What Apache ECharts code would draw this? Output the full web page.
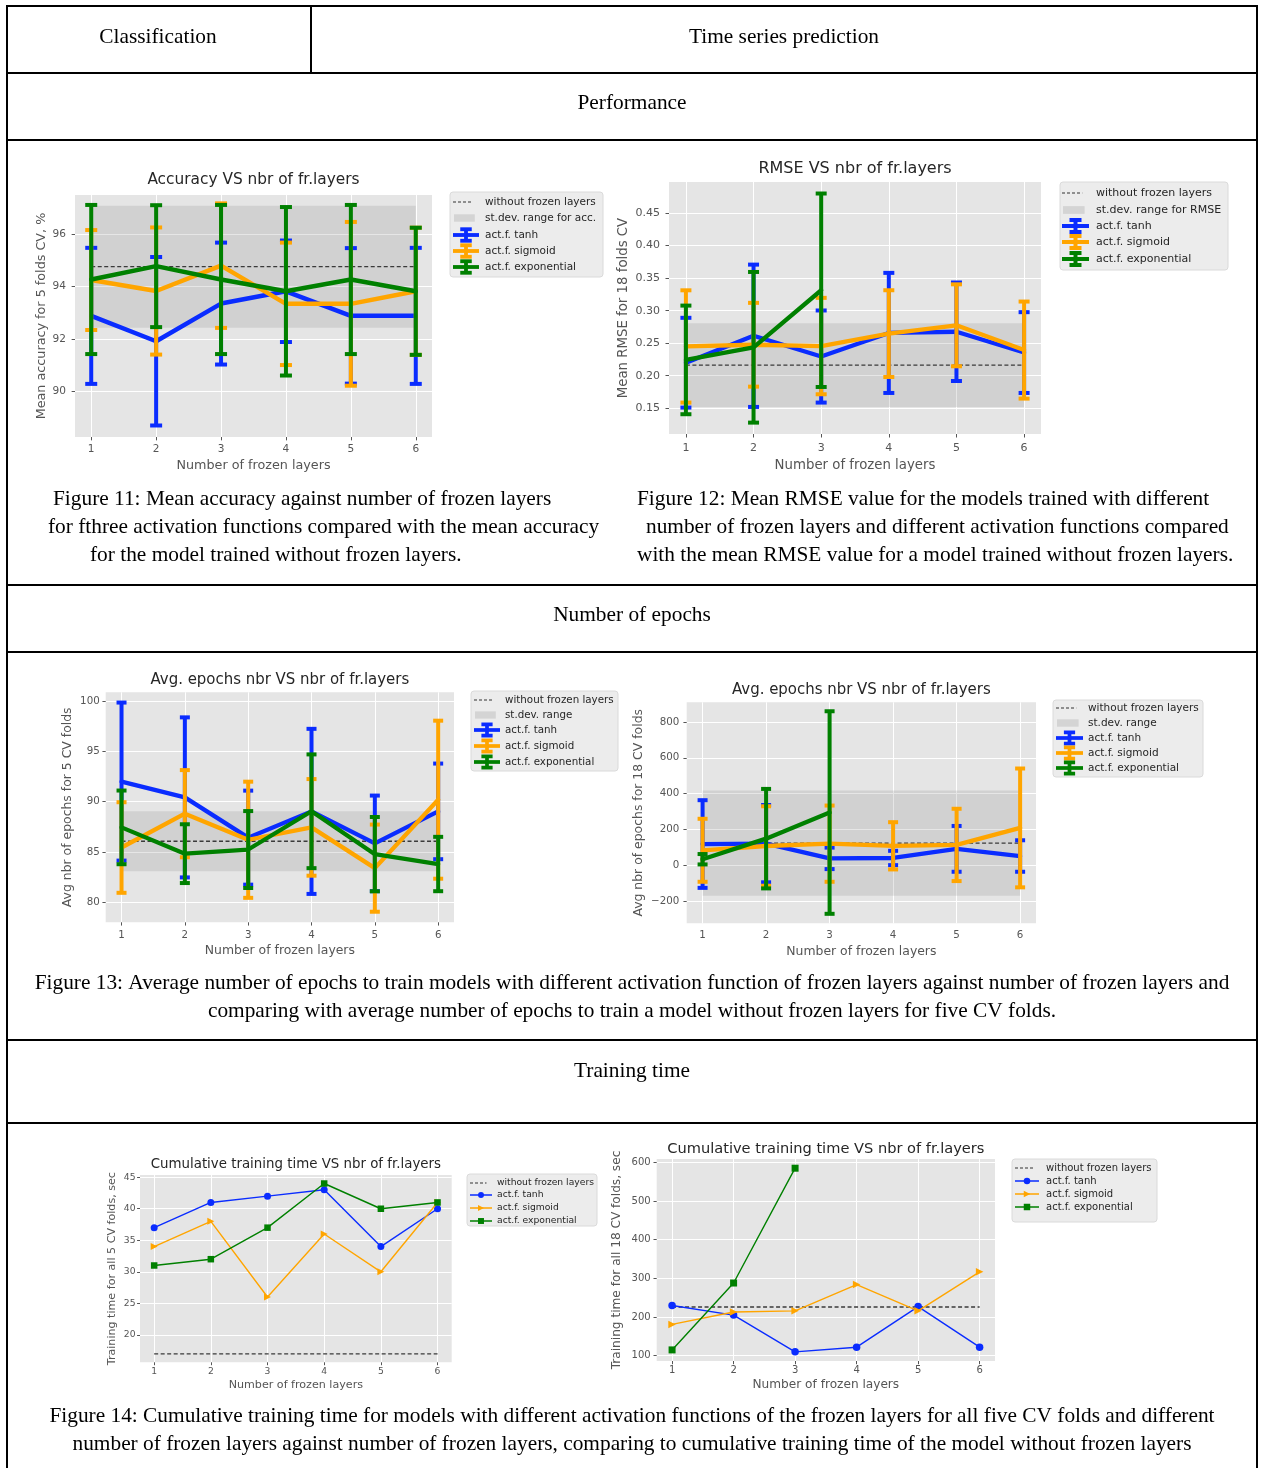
<!DOCTYPE html>
<html>
<head>
<meta charset="utf-8">
<script src="https://cdn.jsdelivr.net/npm/echarts@6/dist/echarts.min.js"></script>
<style>
html, body { margin: 0; padding: 0; background: #ffffff; }
#main { width: 1261px; height: 1468px; }
</style>
</head>
<body>
<div id="main"></div>
<script>
// ---------------- DATA ----------------
const layers = [1, 2, 3, 4, 5, 6];

// Figure 11 - accuracy (classification)
const accBase = 94.76;
const accBaseStd = 2.33;
const accTanh = [92.88, 91.91, 93.35, 93.82, 92.88, 92.88];
const accTanhStd = [2.60, 3.22, 2.33, 1.94, 2.59, 2.60];
const accSigmoid = [94.25, 93.83, 94.80, 93.34, 93.34, 93.82];
const accSigmoidStd = [1.91, 2.43, 2.38, 2.34, 3.13, 2.43];
const accExp = [94.27, 94.78, 94.27, 93.82, 94.27, 93.82];
const accExpStd = [2.85, 2.33, 2.85, 3.22, 2.85, 2.43];
const accTicks = [90, 92, 94, 96];

// Figure 12 - RMSE (time series)
const rmseBase = 0.2164;
const rmseBaseStd = 0.0644;
const rmseTanh = [0.2200, 0.2614, 0.2295, 0.2658, 0.2676, 0.2356];
const rmseTanhStd = [0.0690, 0.1094, 0.0708, 0.0923, 0.0757, 0.0621];
const rmseSigmoid = [0.2450, 0.2476, 0.2456, 0.2647, 0.2775, 0.2394];
const rmseSigmoidStd = [0.0863, 0.0644, 0.0741, 0.0667, 0.0630, 0.0746];
const rmseExp = [0.2243, 0.2437, 0.3314, null, null, null];
const rmseExpStd = [0.0835, 0.1158, 0.1487, null, null, null];
const rmseTicks = [0.15, 0.20, 0.25, 0.30, 0.35, 0.40, 0.45];

// Figure 13 left - epochs (classification)
const epBase = 86.05;
const epBaseStd = 2.99;
const epTanh = [91.98, 90.41, 86.41, 89.02, 85.84, 89.02];
const epTanhStd = [7.85, 7.95, 4.67, 8.20, 4.75, 4.75];
const epSigmoid = [85.43, 88.79, 86.20, 87.43, 83.38, 90.18];
const epSigmoidStd = [4.50, 4.33, 5.77, 4.80, 4.33, 7.85];
const epExp = [87.43, 84.82, 85.23, 89.03, 84.77, 83.79];
const epExpStd = [3.66, 2.92, 3.82, 5.65, 3.69, 2.70];
const epTicks = [80, 85, 90, 95, 100];

// Figure 13 right - epochs (time series)
const epTsBase = 123;
const epTsBaseStd = 294;
const epTsTanh = [118, 120, 38, 40, 91, 51];
const epTsTanhStd = [245, 216, 60, 40, 128, 88];
const epTsSigmoid = [83, 107, 120, 108, 113, 208];
const epTsSigmoidStd = [176, 222, 213, 132, 202, 332];
const epTsExp = [33, 148, 294, null, null, null];
const epTsExpStd = [29, 278, 566, null, null, null];
const epTsTicks = [-200, 0, 200, 400, 600, 800];

// Figure 14 left - cumulative training time (classification)
const ttBase = 17;
const ttTanh = [37, 41, 42, 43, 34, 40];
const ttSigmoid = [34, 38, 26, 36, 30, 41];
const ttExp = [31, 32, 37, 44, 40, 41];
const ttTicks = [20, 25, 30, 35, 40, 45];

// Figure 14 right - cumulative training time (time series)
const tsTtBase = 226;
const tsTtTanh = [230, 205, 110, 122, 227, 122];
const tsTtSigmoid = [181, 213, 216, 284, 216, 317];
const tsTtExp = [115, 288, 585, null, null, null];
const tsTtTicks = [100, 200, 300, 400, 500, 600];

// ---------------- STYLE ----------------
const FONT = 'DejaVu Sans';
const SERIF = 'Liberation Serif';
const C_TANH = '#0a2cff';
const C_SIG = '#ffa500';
const C_EXP = '#008000';
const PLOT_BG = '#e5e5e5';
const BAND = 'rgba(128,128,128,0.2)';
const LBL = '#555555';

const option = {
  animation: false,
  backgroundColor: '#ffffff',
  title: [], grid: [], xAxis: [], yAxis: [], series: [],
  graphic: { elements: [] }
};
const G = option.graphic.elements;

function lineData(vals) {
  const out = [];
  layers.forEach((x, i) => { if (vals[i] != null) out.push([x, vals[i]]); });
  return out;
}
function errData(mean, std) {
  const out = [];
  layers.forEach((x, i) => { if (mean[i] != null) out.push([x, mean[i] - std[i], mean[i] + std[i]]); });
  return out;
}
function errRender(color, lw, cap) {
  return function (params, api) {
    const x = api.value(0);
    const lo = api.coord([x, api.value(1)]);
    const hi = api.coord([x, api.value(2)]);
    const st = { stroke: color, lineWidth: lw, fill: null };
    return {
      type: 'group',
      children: [
        { type: 'line', shape: { x1: lo[0], y1: lo[1], x2: hi[0], y2: hi[1] }, style: st },
        { type: 'line', shape: { x1: hi[0] - cap / 2, y1: hi[1], x2: hi[0] + cap / 2, y2: hi[1] }, style: st },
        { type: 'line', shape: { x1: lo[0] - cap / 2, y1: lo[1], x2: lo[0] + cap / 2, y2: lo[1] }, style: st }
      ]
    };
  };
}

function addChart(c) {
  const ci = option.grid.length;
  const s = c.s;
  const [gl, gt, gw, gh] = c.grid;
  option.grid.push({
    left: gl, top: gt, width: gw, height: gh, show: true,
    backgroundColor: PLOT_BG, borderWidth: 0, containLabel: false, outerBoundsMode: 'none'
  });
  option.title.push({
    text: c.title, left: gl + gw / 2, top: c.titleY, textAlign: 'center', textVerticalAlign: 'middle',
    padding: 0,
    textStyle: { fontFamily: FONT, fontSize: 16 * s, fontWeight: 'normal', color: '#262626' }
  });
  option.xAxis.push({
    type: 'value', gridIndex: ci, min: 0.75, max: 6.25, splitNumber: 5,
    name: 'Number of frozen layers', nameLocation: 'middle', nameGap: c.xNameGap,
    nameTextStyle: { fontFamily: FONT, fontSize: 13.3 * s, color: LBL },
    axisLine: { show: false },
    axisTick: { show: true, length: 3.5 * s, lineStyle: { color: LBL, width: 1 }, customValues: layers },
    axisLabel: { fontFamily: FONT, fontSize: 11 * s, color: LBL, margin: c.xLabelMargin, customValues: layers },
    splitLine: { show: true, lineStyle: { color: '#ffffff', width: 1 }, customValues: layers }
  });
  option.yAxis.push({
    type: 'value', gridIndex: ci, min: c.yMin, max: c.yMax, splitNumber: c.ySplit,
    name: c.yName, nameLocation: 'middle', nameGap: c.yNameGap,
    nameTextStyle: { fontFamily: FONT, fontSize: 13.3 * s, color: LBL },
    axisLine: { show: false },
    axisTick: { show: true, length: 3.5 * s, lineStyle: { color: LBL, width: 1 }, customValues: c.ticks },
    axisLabel: { fontFamily: FONT, fontSize: 11 * s, color: LBL, margin: c.yLabelMargin, customValues: c.ticks,
      formatter: c.fmt || function (v) { return v < 0 ? '\u2212' + Math.abs(v) : String(v); } },
    splitLine: { show: true, lineStyle: { color: '#ffffff', width: 1 }, customValues: c.ticks }
  });
  if (c.baseStd != null) {
    option.series.push({
      type: 'line', name: 'st.dev. range', xAxisIndex: ci, yAxisIndex: ci, data: [], z: 1, silent: true,
      markArea: { silent: true, itemStyle: { color: BAND, borderWidth: 0 },
        data: [[{ coord: [layers[0], c.base - c.baseStd] }, { coord: [layers[layers.length - 1], c.base + c.baseStd] }]] }
    });
  }
  option.series.push({
    type: 'line', name: 'without frozen layers', xAxisIndex: ci, yAxisIndex: ci, z: 2, silent: true,
    data: lineData(layers.map(() => c.base)), showSymbol: false, symbol: 'none',
    lineStyle: { color: '#3a3a3a', width: 1.3, type: [4, 2.5] }
  });
  c.series.forEach((sr, k) => {
    const z = 3 + k * 2;
    if (c.kind === 'err') {
      option.series.push({
        type: 'custom', name: sr.name, xAxisIndex: ci, yAxisIndex: ci, z: z, silent: true,
        renderItem: errRender(sr.color, c.barW, c.capW),
        encode: { x: 0, y: [1, 2] },
        data: errData(sr.mean, sr.std)
      });
      option.series.push({
        type: 'line', name: sr.name, xAxisIndex: ci, yAxisIndex: ci, z: z, silent: true,
        data: lineData(sr.mean), showSymbol: false, symbol: 'none',
        lineStyle: { color: sr.color, width: c.lineW, join: 'round', cap: 'round' }
      });
    } else {
      option.series.push({
        type: 'line', name: sr.name, xAxisIndex: ci, yAxisIndex: ci, z: z, silent: true,
        data: lineData(sr.mean), showSymbol: true, symbol: sr.symbol, symbolSize: sr.size,
        symbolRotate: sr.rotate || 0,
        itemStyle: { color: sr.color, borderWidth: 0 },
        lineStyle: { color: sr.color, width: c.lineW }
      });
    }
  });
}

function addLegend(L) {
  const [x0, y0, x1, y1] = L.box;
  G.push({ type: 'rect', z: 50, shape: { x: x0, y: y0, width: x1 - x0, height: y1 - y0, r: 3 },
    style: { fill: '#ececec', stroke: '#dadada', lineWidth: 1 } });
  L.items.forEach((it, i) => {
    const y = L.rows[i];
    const ix = L.iconX, iw = L.iconW, cx = ix + iw / 2;
    if (it.kind === 'dash') {
      G.push({ type: 'line', z: 51, shape: { x1: ix, y1: y, x2: ix + iw * 0.75, y2: y },
        style: { stroke: '#333', lineWidth: 1.2, lineDash: [3, 2] } });
    } else if (it.kind === 'band') {
      G.push({ type: 'rect', z: 51, shape: { x: ix + 1, y: y - L.fs * 0.35, width: iw * 0.8, height: L.fs * 0.7 },
        style: { fill: 'rgba(128,128,128,0.22)' } });
    } else if (it.kind === 'err') {
      const st = { stroke: it.color, lineWidth: 4 * L.s };
      const hh = 6 * L.s, cw = 12 * L.s;
      G.push({ type: 'line', z: 51, shape: { x1: ix, y1: y, x2: ix + iw, y2: y }, style: st });
      G.push({ type: 'line', z: 51, shape: { x1: cx, y1: y - hh, x2: cx, y2: y + hh }, style: st });
      G.push({ type: 'line', z: 51, shape: { x1: cx - cw / 2, y1: y - hh, x2: cx + cw / 2, y2: y - hh }, style: st });
      G.push({ type: 'line', z: 51, shape: { x1: cx - cw / 2, y1: y + hh, x2: cx + cw / 2, y2: y + hh }, style: st });
    } else if (it.kind === 'mark') {
      G.push({ type: 'line', z: 51, shape: { x1: ix, y1: y, x2: ix + iw, y2: y }, style: { stroke: it.color, lineWidth: 1.5 } });
      const r = 3.2 * L.s / 0.9;
      if (it.shape === 'circle') {
        G.push({ type: 'circle', z: 52, shape: { cx: cx, cy: y, r: r }, style: { fill: it.color } });
      } else if (it.shape === 'rect') {
        G.push({ type: 'rect', z: 52, shape: { x: cx - r, y: y - r, width: 2 * r, height: 2 * r }, style: { fill: it.color } });
      } else {
        G.push({ type: 'polygon', z: 52, shape: { points: [[cx - r, y - r], [cx + r, y], [cx - r, y + r]] }, style: { fill: it.color } });
      }
    }
    G.push({ type: 'text', z: 52, x: L.textX, y: y,
      style: { text: it.label, fontFamily: FONT, fontSize: L.fs, fill: '#262626',
        align: 'left', verticalAlign: 'middle', textAlign: 'left', textVerticalAlign: 'middle' } });
  });
}

const rmseFmt = function (v) { return v.toFixed(2); };

// ---------------- CHARTS ----------------
addChart({ title: 'Accuracy VS nbr of fr.layers', grid: [75, 195, 357, 242], s: 0.96, titleY: 180,
  yName: 'Mean accuracy for 5 folds CV, %', yMin: 88.25, yMax: 97.5, ySplit: 5, ticks: accTicks,
  yNameGap: 25.6, yLabelMargin: 9, xLabelMargin: 6.5, xNameGap: 22.6,
  base: accBase, baseStd: accBaseStd, kind: 'err', barW: 4, capW: 12, lineW: 4.5,
  series: [
    { name: 'act.f. tanh', color: C_TANH, mean: accTanh, std: accTanhStd },
    { name: 'act.f. sigmoid', color: C_SIG, mean: accSigmoid, std: accSigmoidStd },
    { name: 'act.f. exponential', color: C_EXP, mean: accExp, std: accExpStd }
  ] });

addChart({ title: 'RMSE VS nbr of fr.layers', grid: [669, 182, 372, 252], s: 1.0, titleY: 169,
  yName: 'Mean RMSE for 18 folds CV', yMin: 0.1104, yMax: 0.4978, ySplit: 8, ticks: rmseTicks, fmt: rmseFmt,
  yNameGap: 39.3, yLabelMargin: 9, xLabelMargin: 8.5, xNameGap: 25,
  base: rmseBase, baseStd: rmseBaseStd, kind: 'err', barW: 4, capW: 11, lineW: 4.3,
  series: [
    { name: 'act.f. tanh', color: C_TANH, mean: rmseTanh, std: rmseTanhStd },
    { name: 'act.f. sigmoid', color: C_SIG, mean: rmseSigmoid, std: rmseSigmoidStd },
    { name: 'act.f. exponential', color: C_EXP, mean: rmseExp, std: rmseExpStd }
  ] });

addChart({ title: 'Avg. epochs nbr VS nbr of fr.layers', grid: [105.7, 692.3, 348.3, 230], s: 0.935, titleY: 680,
  yName: 'Avg nbr of epochs for 5 CV folds', yMin: 78.0, yMax: 100.85, ySplit: 5, ticks: epTicks,
  yNameGap: 31.8, yLabelMargin: 6, xLabelMargin: 8, xNameGap: 22.5,
  base: epBase, baseStd: epBaseStd, kind: 'err', barW: 4, capW: 10, lineW: 4.3,
  series: [
    { name: 'act.f. tanh', color: C_TANH, mean: epTanh, std: epTanhStd },
    { name: 'act.f. sigmoid', color: C_SIG, mean: epSigmoid, std: epSigmoidStd },
    { name: 'act.f. exponential', color: C_EXP, mean: epExp, std: epExpStd }
  ] });

addChart({ title: 'Avg. epochs nbr VS nbr of fr.layers', grid: [686.7, 702.3, 349.3, 221], s: 0.935, titleY: 690,
  yName: 'Avg nbr of epochs for 18 CV folds', yMin: -325, yMax: 910, ySplit: 5, ticks: epTsTicks,
  yNameGap: 42, yLabelMargin: 7.4, xLabelMargin: 7.2, xNameGap: 22.2,
  base: epTsBase, baseStd: epTsBaseStd, kind: 'err', barW: 4, capW: 10, lineW: 4.3,
  series: [
    { name: 'act.f. tanh', color: C_TANH, mean: epTsTanh, std: epTsTanhStd },
    { name: 'act.f. sigmoid', color: C_SIG, mean: epTsSigmoid, std: epTsSigmoidStd },
    { name: 'act.f. exponential', color: C_EXP, mean: epTsExp, std: epTsExpStd }
  ] });

addChart({ title: 'Cumulative training time VS nbr of fr.layers', grid: [140, 1175, 311.7, 187.3], s: 0.836, titleY: 1165,
  yName: 'Training time for all 5 CV folds, sec', yMin: 15.65, yMax: 45.35, ySplit: 5, ticks: ttTicks,
  yNameGap: 22.7, yLabelMargin: 4.5, xLabelMargin: 4.8, xNameGap: 17.1,
  base: ttBase, baseStd: null, kind: 'mark', lineW: 1.4,
  series: [
    { name: 'act.f. tanh', color: C_TANH, mean: ttTanh, symbol: 'circle', size: 7 },
    { name: 'act.f. sigmoid', color: C_SIG, mean: ttSigmoid, symbol: 'triangle', size: 7, rotate: -90 },
    { name: 'act.f. exponential', color: C_EXP, mean: ttExp, symbol: 'rect', size: 6.5 }
  ] });

addChart({ title: 'Cumulative training time VS nbr of fr.layers', grid: [656.7, 1159, 338.3, 202], s: 0.913, titleY: 1149,
  yName: 'Training time for all 18 CV folds, sec', yMin: 86.3, yMax: 608.8, ySplit: 5, ticks: tsTtTicks,
  yNameGap: 34, yLabelMargin: 6, xLabelMargin: 4, xNameGap: 18,
  base: tsTtBase, baseStd: null, kind: 'mark', lineW: 1.4,
  series: [
    { name: 'act.f. tanh', color: C_TANH, mean: tsTtTanh, symbol: 'circle', size: 7.5 },
    { name: 'act.f. sigmoid', color: C_SIG, mean: tsTtSigmoid, symbol: 'triangle', size: 7.5, rotate: -90 },
    { name: 'act.f. exponential', color: C_EXP, mean: tsTtExp, symbol: 'rect', size: 7 }
  ] });

// ---------------- LEGENDS ----------------
function errItems(bandLabel) {
  return [
    { kind: 'dash', label: 'without frozen layers' },
    { kind: 'band', label: bandLabel },
    { kind: 'err', label: 'act.f. tanh', color: C_TANH },
    { kind: 'err', label: 'act.f. sigmoid', color: C_SIG },
    { kind: 'err', label: 'act.f. exponential', color: C_EXP }
  ];
}
const markItems = [
  { kind: 'dash', label: 'without frozen layers' },
  { kind: 'mark', label: 'act.f. tanh', color: C_TANH, shape: 'circle' },
  { kind: 'mark', label: 'act.f. sigmoid', color: C_SIG, shape: 'tri' },
  { kind: 'mark', label: 'act.f. exponential', color: C_EXP, shape: 'rect' }
];
addLegend({ box: [450, 192, 603, 277], rows: [202, 218, 235, 251, 267], textX: 485, iconX: 453, iconW: 26, fs: 10.5, s: 0.96, items: errItems('st.dev. range for acc.') });
addLegend({ box: [1060, 182, 1228, 270], rows: [193, 210, 226, 242, 259], textX: 1096, iconX: 1062, iconW: 27, fs: 11, s: 1.0, items: errItems('st.dev. range for RMSE') });
addLegend({ box: [471, 691, 618, 771], rows: [700, 715, 730, 746, 762], textX: 505, iconX: 474, iconW: 26, fs: 10.3, s: 0.935, items: errItems('st.dev. range') });
addLegend({ box: [1053, 700, 1203, 777], rows: [708, 723, 738, 753, 768], textX: 1088, iconX: 1056, iconW: 27, fs: 10.5, s: 0.935, items: errItems('st.dev. range') });
addLegend({ box: [467, 1174, 597, 1226], rows: [1183, 1195, 1208, 1221], textX: 497, iconX: 470, iconW: 22, fs: 9.2, s: 0.836, items: markItems });
addLegend({ box: [1012, 1159, 1157, 1222], rows: [1168, 1181, 1194, 1207], textX: 1046, iconX: 1015, iconW: 24, fs: 10, s: 0.913, items: markItems });

// ---------------- TABLE ----------------
function hline(y, x0, x1) { G.push({ type: 'line', z: 60, shape: { x1: x0, y1: y, x2: x1, y2: y }, style: { stroke: '#000', lineWidth: 2 } }); }
function vline(x, y0, y1) { G.push({ type: 'line', z: 60, shape: { x1: x, y1: y0, x2: x, y2: y1 }, style: { stroke: '#000', lineWidth: 2 } }); }
hline(6, 6, 1258);
[73, 140, 585, 652, 1040, 1123].forEach(y => hline(y, 7, 1257));
vline(7, 5, 1468);
vline(1257, 5, 1468);
vline(311, 6, 73);

function txt(t, x, y, align) {
  G.push({ type: 'text', z: 60, x: x, y: y,
    style: { text: t, fontFamily: SERIF, fontSize: 21.35, fill: '#000',
      align: align, verticalAlign: 'middle', textAlign: align, textVerticalAlign: 'middle' } });
}
txt('Classification', 158, 37, 'center');
txt('Time series prediction', 784, 37, 'center');
txt('Performance', 632, 103, 'center');
txt('Number of epochs', 632, 615, 'center');
txt('Training time', 632, 1071, 'center');

txt('Figure 11: Mean accuracy against number of frozen layers', 53, 499, 'left');
txt('for fthree activation functions compared with the mean accuracy', 48, 527, 'left');
txt('for the model trained without frozen layers.', 90, 555, 'left');
txt('Figure 12: Mean RMSE value for the models trained with different', 637, 499, 'left');
txt('number of frozen layers and different activation functions compared', 646, 527, 'left');
txt('with the mean RMSE value for a model trained without frozen layers.', 637, 555, 'left');
txt('Figure 13: Average number of epochs to train models with different activation function of frozen layers against number of frozen layers and', 632, 983, 'center');
txt('comparing with average number of epochs to train a model without frozen layers for five CV folds.', 632, 1011, 'center');
txt('Figure 14: Cumulative training time for models with different activation functions of the frozen layers for all five CV folds and different', 632, 1416, 'center');
txt('number of frozen layers against number of frozen layers, comparing to cumulative training time of the model without frozen layers', 632, 1444, 'center');

const chart = echarts.init(document.getElementById('main'), null, { renderer: 'canvas', width: 1261, height: 1468 });
chart.setOption(option);
</script>
</body>
</html>
